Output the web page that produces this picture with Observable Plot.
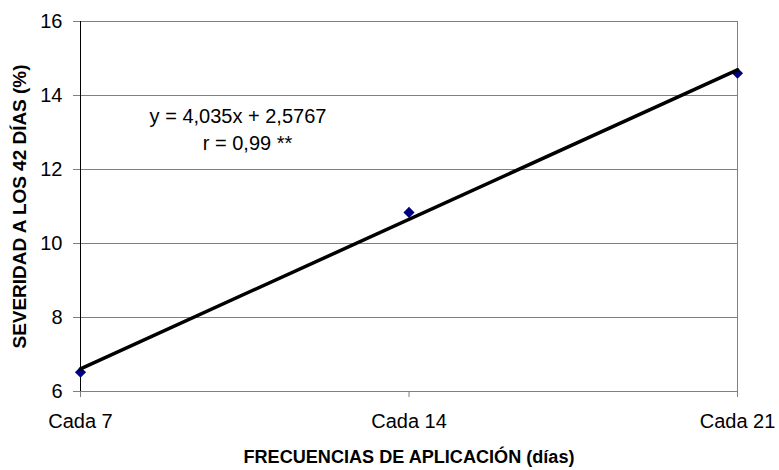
<!DOCTYPE html>
<html>
<head>
<meta charset="utf-8">
<script src="https://cdn.jsdelivr.net/npm/d3@7"></script>
<script src="https://cdn.jsdelivr.net/npm/@observablehq/plot@0.6"></script>
<style>
  html, body { margin: 0; padding: 0; background: #fff; }
  #chart svg { display: block; }
</style>
</head>
<body>
<div id="chart"></div>
<script>
const categories = ["Cada 7", "Cada 14", "Cada 21"];
const positions = [1, 2, 3];
const severity = [6.52, 10.84, 14.6];
const yTicks = [6, 8, 10, 12, 14, 16];
const gridValues = [8, 10, 12, 14, 16];
const equationText = "y = 4,035x + 2,5767";
const rText = "r = 0,99 **";
const xTitle = "FRECUENCIAS DE APLICACIÓN (días)";
const yTitle = "SEVERIDAD A LOS 42 DÍAS (%)";

const data = positions.map((p, i) => ({x: p, y: severity[i], label: categories[i]}));

const chart = Plot.plot({
  width: 779,
  height: 470,
  marginLeft: 80,
  marginRight: 42,
  marginTop: 21,
  marginBottom: 79,
  style: {fontFamily: "Arial, 'Liberation Sans', sans-serif", color: "#000", background: "#fff"},
  x: {domain: [1, 3]},
  y: {domain: [6, 16]},
  marks: [
    Plot.ruleY(gridValues, {stroke: "#808080", strokeWidth: 1}),
    Plot.ruleY([6], {stroke: "#808080", strokeWidth: 1}),
    Plot.ruleX([3], {stroke: "#808080", strokeWidth: 1}),
    Plot.axisY({ticks: yTicks, tickSize: 7, tickPadding: 11, fontSize: 20, stroke: "#808080", label: null}),
    Plot.axisX({ticks: positions, tickFormat: d => categories[positions.indexOf(d)], tickSize: 6, tickPadding: 16, fontSize: 20, stroke: "#808080", label: null}),
    Plot.ruleX([1], {stroke: "#000", strokeWidth: 1}),
    Plot.dot(data, {x: "x", y: "y", symbol: "diamond2", r: 5, fill: "#000080", stroke: "none"}),
    Plot.linearRegressionY(data, {x: "x", y: "y", stroke: "#000", strokeWidth: 3.5, ci: 0}),
    Plot.text([equationText], {frameAnchor: "top-left", dx: 157.5, dy: 95, textAnchor: "middle", lineAnchor: "middle", fontSize: 20, fill: "#000"}),
    Plot.text([rText], {frameAnchor: "top-left", dx: 167, dy: 122, textAnchor: "middle", lineAnchor: "middle", fontSize: 20, fill: "#000"}),
    Plot.text([xTitle], {frameAnchor: "bottom", dy: 66, textAnchor: "middle", lineAnchor: "middle", fontSize: 18, fontWeight: "bold", fill: "#000", className: "xtitle"}),
    Plot.text([yTitle], {frameAnchor: "left", dx: -60, rotate: -90, textAnchor: "middle", lineAnchor: "middle", fontSize: 18, fontWeight: "bold", fill: "#000", className: "ytitle"})
  ]
});

d3.select(chart).selectAll(".xtitle text").attr("textLength", 331).attr("lengthAdjust", "spacingAndGlyphs");
d3.select(chart).selectAll(".ytitle text").attr("textLength", 284).attr("lengthAdjust", "spacingAndGlyphs");

document.getElementById("chart").appendChild(chart);
</script>
</body>
</html>
